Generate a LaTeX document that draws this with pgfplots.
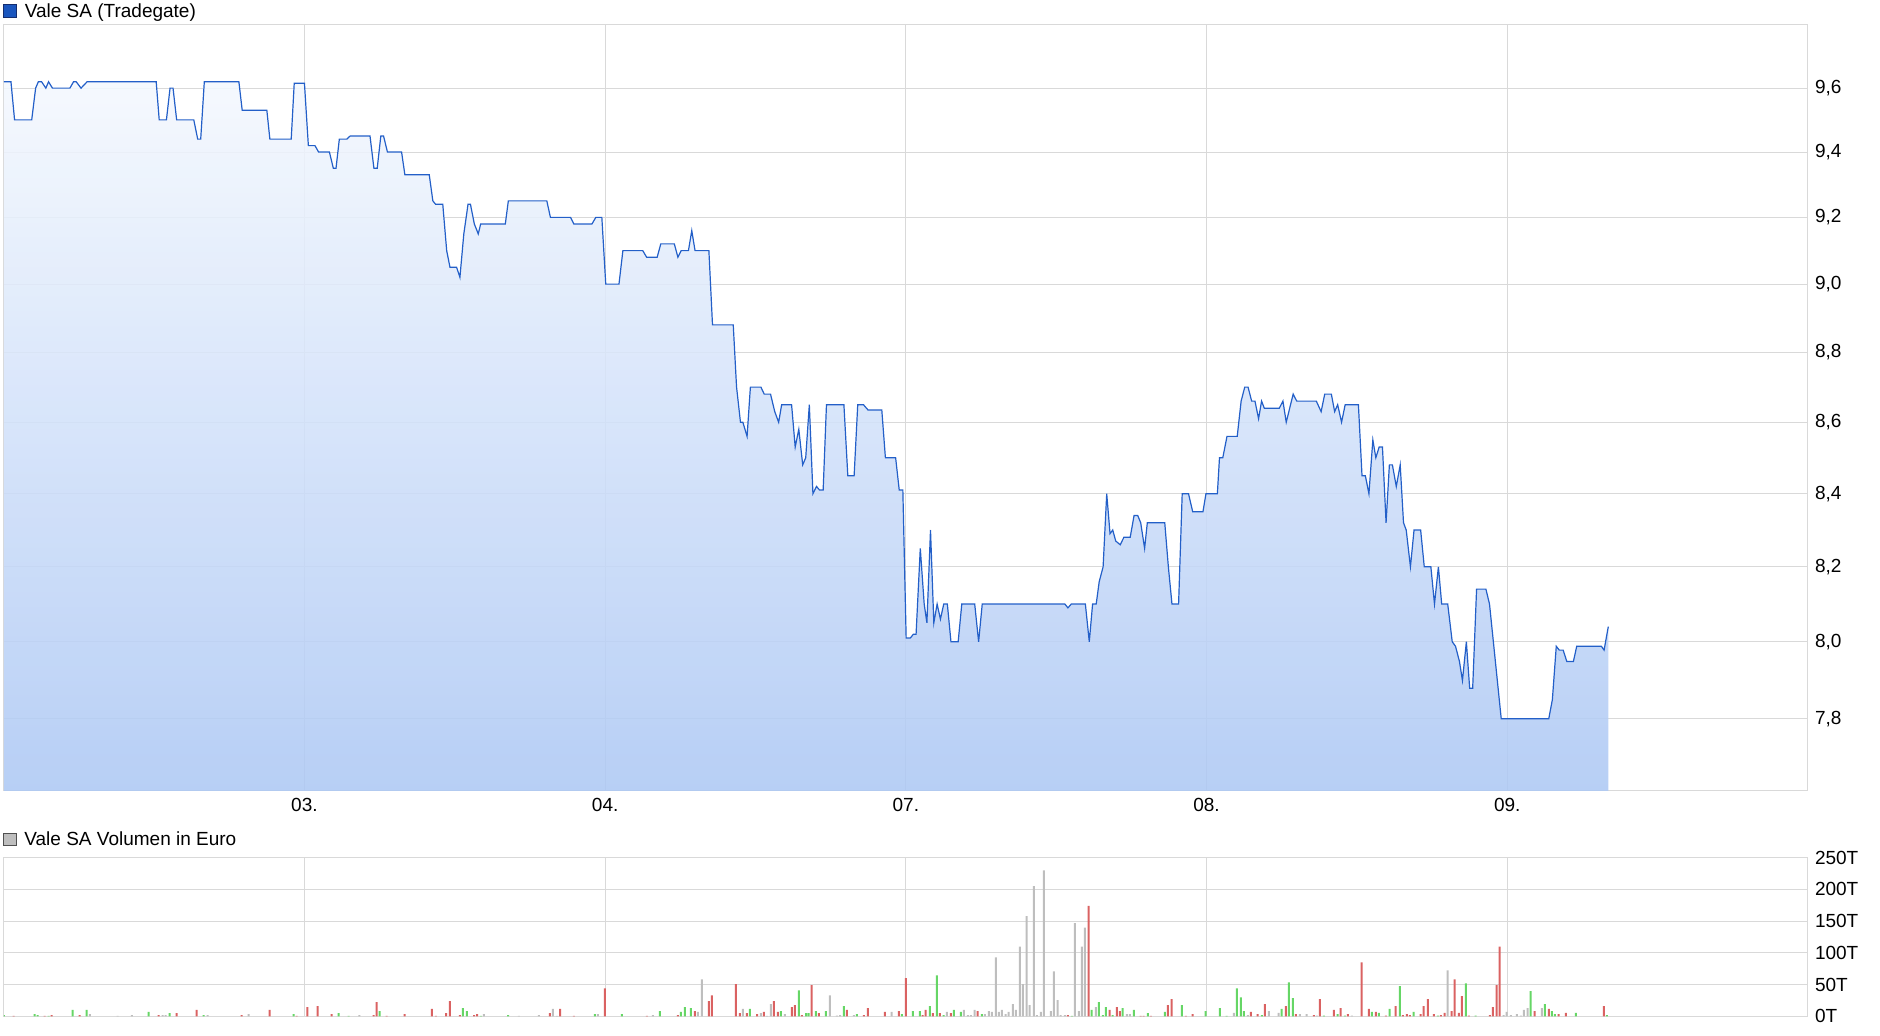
\documentclass[border=0pt]{standalone}
\usepackage{pgfplots}
\pgfplotsset{compat=1.18}
\usepackage{pgfplotstable}
\usepackage{fontspec}
\setmainfont{Liberation Sans}

\definecolor{gridgray}{RGB}{217,217,217}
\definecolor{pricebl}{RGB}{35,95,200}
\definecolor{filltop}{RGB}{244,248,254}
\definecolor{fillbot}{RGB}{173,200,244}
\definecolor{barred}{RGB}{218,98,98}
\definecolor{bargreen}{RGB}{102,214,102}
\definecolor{bargray}{RGB}{190,190,190}

% price, x in trading days from 02.
\pgfplotstableread{
x p
0.000 9.62
0.024 9.62
0.036 9.50
0.093 9.50
0.106 9.60
0.115 9.62
0.126 9.62
0.140 9.60
0.149 9.62
0.162 9.60
0.220 9.60
0.232 9.62
0.241 9.62
0.257 9.60
0.277 9.62
0.507 9.62
0.517 9.50
0.541 9.50
0.553 9.60
0.563 9.60
0.575 9.50
0.632 9.50
0.645 9.44
0.655 9.44
0.667 9.62
0.782 9.62
0.793 9.53
0.875 9.53
0.885 9.44
0.956 9.44
0.966 9.615
1.000 9.615
1.013 9.42
1.035 9.42
1.047 9.40
1.083 9.40
1.096 9.35
1.105 9.35
1.116 9.44
1.141 9.44
1.152 9.45
1.218 9.45
1.231 9.35
1.242 9.35
1.254 9.45
1.263 9.45
1.276 9.40
1.323 9.40
1.334 9.33
1.415 9.33
1.427 9.25
1.436 9.24
1.460 9.24
1.473 9.10
1.484 9.05
1.506 9.05
1.517 9.02
1.530 9.15
1.544 9.24
1.552 9.24
1.565 9.18
1.578 9.15
1.586 9.18
1.668 9.18
1.678 9.25
1.806 9.25
1.818 9.20
1.885 9.20
1.896 9.18
1.956 9.18
1.969 9.20
1.989 9.20
2.002 9.00
2.046 9.00
2.059 9.10
2.125 9.10
2.138 9.08
2.173 9.08
2.185 9.12
2.230 9.12
2.242 9.08
2.253 9.10
2.277 9.10
2.288 9.16
2.299 9.10
2.345 9.10
2.357 8.88
2.426 8.88
2.437 8.70
2.450 8.60
2.458 8.60
2.472 8.56
2.483 8.70
2.518 8.70
2.529 8.68
2.550 8.68
2.564 8.63
2.577 8.60
2.587 8.65
2.620 8.65
2.632 8.53
2.644 8.58
2.657 8.48
2.667 8.50
2.679 8.65
2.691 8.40
2.703 8.42
2.713 8.41
2.725 8.41
2.736 8.65
2.794 8.65
2.807 8.45
2.828 8.45
2.840 8.65
2.859 8.65
2.874 8.635
2.920 8.635
2.932 8.50
2.966 8.50
2.978 8.41
2.990 8.41
3.001 8.01
3.015 8.01
3.025 8.02
3.034 8.02
3.048 8.25
3.061 8.10
3.070 8.05
3.082 8.30
3.093 8.05
3.104 8.10
3.115 8.06
3.126 8.10
3.138 8.10
3.150 8.00
3.174 8.00
3.186 8.10
3.229 8.10
3.242 8.00
3.254 8.10
3.529 8.10
3.539 8.09
3.550 8.10
3.597 8.10
3.610 8.00
3.621 8.10
3.633 8.10
3.643 8.16
3.656 8.20
3.668 8.40
3.679 8.29
3.688 8.30
3.698 8.27
3.713 8.26
3.725 8.28
3.746 8.28
3.759 8.34
3.771 8.34
3.781 8.32
3.794 8.25
3.803 8.32
3.861 8.32
3.873 8.20
3.885 8.10
3.907 8.10
3.919 8.40
3.940 8.40
3.954 8.35
3.988 8.35
3.998 8.40
4.036 8.40
4.043 8.50
4.054 8.50
4.068 8.56
4.102 8.56
4.115 8.66
4.127 8.70
4.138 8.70
4.150 8.66
4.161 8.66
4.173 8.61
4.183 8.66
4.192 8.64
4.242 8.64
4.254 8.66
4.265 8.60
4.288 8.68
4.300 8.66
4.365 8.66
4.381 8.63
4.393 8.68
4.415 8.68
4.426 8.63
4.436 8.65
4.449 8.60
4.461 8.65
4.505 8.65
4.517 8.45
4.528 8.45
4.540 8.40
4.553 8.55
4.563 8.50
4.574 8.53
4.585 8.53
4.597 8.32
4.608 8.48
4.618 8.48
4.631 8.42
4.644 8.48
4.655 8.32
4.664 8.30
4.678 8.20
4.690 8.30
4.712 8.30
4.724 8.20
4.746 8.20
4.758 8.10
4.771 8.20
4.782 8.10
4.802 8.10
4.817 8.00
4.828 7.99
4.841 7.95
4.851 7.90
4.864 8.00
4.875 7.88
4.885 7.88
4.898 8.14
4.929 8.14
4.941 8.10
4.980 7.80
5.138 7.80
5.150 7.85
5.163 7.99
5.173 7.98
5.186 7.98
5.198 7.95
5.220 7.95
5.231 7.99
5.313 7.99
5.322 7.98
5.336 8.04
}\pricedata

% volume in thousand euro, by colour
\pgfplotstableread{
x v
0.033 0.5
0.136 0.5
0.159 2
0.252 2
0.515 2
0.575 5
0.641 10
0.791 2
0.884 10
0.974 0.5
1.010 14.6
1.044 16
1.090 3.6
1.230 2
1.240 22.4
1.273 0.5
1.333 3.6
1.424 11.5
1.437 0.5
1.471 5
1.484 24
1.517 2
1.564 2
1.574 3.6
1.816 5
1.850 11.5
1.896 0.5
1.999 44
2.139 0.5
2.242 2
2.298 8.3
2.345 24
2.355 33
2.435 50.5
2.448 5
2.471 5
2.505 3.6
2.528 6.8
2.561 24
2.574 6.8
2.621 14.6
2.631 17.7
2.654 2
2.687 49
2.711 5
2.804 10
2.860 2
2.874 13
2.930 6.8
2.977 8.3
3.000 60
3.056 2
3.066 10
3.090 5
3.113 5
3.150 5
3.239 8.3
3.539 2
3.608 174
3.678 10
3.702 14.6
3.712 8.3
3.781 0.5
3.791 0.5
3.815 0.5
3.871 17.7
3.884 27
3.931 0.5
3.954 3.6
4.147 6.8
4.170 3.6
4.194 19.3
4.264 16
4.297 3.6
4.357 2
4.377 27
4.423 10
4.446 13
4.470 3.6
4.516 85
4.540 11.5
4.563 6.8
4.596 1
4.629 16
4.653 2
4.666 3.6
4.676 2
4.712 3.6
4.722 16
4.736 27
4.756 3.6
4.779 2
4.792 5.2
4.815 8.3
4.825 58.3
4.839 5.2
4.849 31.8
4.872 1
4.942 2
4.952 14.6
4.965 49
4.975 110
5.091 8.3
5.138 11.5
5.171 3.6
5.195 5.2
5.321 16
}\volred

\pgfplotstableread{
x v
0.000 2
0.103 3.6
0.113 2
0.149 0.5
0.229 10
0.276 10
0.482 7
0.552 5
0.665 2
0.964 3.6
1.114 5
1.147 0.5
1.250 8.3
1.527 13
1.540 8.3
1.587 0.5
1.677 2
1.966 3.6
2.056 3.6
2.182 8.3
2.252 6.8
2.265 14.6
2.285 13
2.481 11.5
2.584 8.3
2.644 41
2.668 5
2.677 5
2.701 8.3
2.734 8.3
2.794 16
2.837 3.6
2.987 3.6
3.023 8.3
3.047 8.3
3.080 16
3.103 64.6
3.126 2
3.160 10
3.183 6.8
3.253 3.6
3.552 0.5
3.618 10
3.642 22.4
3.655 2
3.665 14.6
3.688 2
3.721 13
3.758 10
3.805 5
3.861 6.8
3.918 17.7
3.997 8.3
4.044 13
4.067 0.5
4.101 44
4.114 30
4.124 8.3
4.184 2
4.250 11.5
4.274 53.6
4.287 28.6
4.390 1
4.436 3.6
4.460 1
4.550 6.8
4.573 5.2
4.609 11.5
4.643 47.4
4.689 6.8
4.769 1
4.862 52
4.895 1
5.078 39.6
5.125 19.3
5.148 8.3
5.158 3.6
5.228 5.2
5.331 2
}\volgreen

\pgfplotstableread{
x v
0.286 3.6
0.379 0.5
0.426 2
0.528 2
0.538 2
0.678 2
0.814 3.6
1.183 2
1.597 3.6
1.713 0.5
1.780 2
1.826 11.5
1.840 0.5
1.976 3.6
2.159 2
2.308 6.8
2.322 58
2.458 11.5
2.518 5
2.538 0.5
2.551 19
2.598 3.6
2.747 33
2.771 1
2.781 2
2.827 2
2.953 6.8
3.136 6.8
3.193 10
3.206 2
3.216 2
3.229 10
3.263 3.6
3.276 8.3
3.286 6.8
3.299 92.7
3.309 6.8
3.319 10
3.332 3.6
3.342 6.8
3.356 19.3
3.366 10
3.379 110
3.389 50.5
3.402 158
3.412 17.7
3.426 205
3.436 2
3.449 6.8
3.459 230
3.482 8.3
3.492 70.8
3.505 25.5
3.515 2
3.529 2
3.562 147
3.575 8.3
3.585 110
3.595 139.6
3.632 14.6
3.735 3.6
3.745 3.6
4.091 5.2
4.137 2
4.207 8.3
4.240 5.2
4.310 3.6
4.333 3.6
4.367 1
4.483 1
4.802 72.4
4.988 2
4.998 6.8
5.012 2
5.032 3.6
5.045 1
5.055 10
5.068 13
5.115 13
}\volgray

\pgfplotsset{
  panel/.style={
    scale only axis, anchor=south west, width=902.1pt,
    xmin=0, xmax=6, xtick={1,2,3,4,5},
    yticklabel pos=right,
    grid=major, grid style={draw=gridgray, line width=0.5pt},
    axis line style={draw=gridgray, line width=0.5pt},
    major tick length=0pt,
    tick label style={font=\fontsize{9.5}{11}\selectfont, text=black},
  },
}

\begin{document}
\begin{tikzpicture}
\useasboundingbox (0,0) rectangle (940pt,518pt);

\begin{axis}[panel,
    at={(1.875pt,122.5pt)}, height=383pt,
    ymode=log, ymin=7.618, ymax=9.802,
    xticklabels={03.,04.,07.,08.,09.},
    ytick={7.8,8.0,8.2,8.4,8.6,8.8,9.0,9.2,9.4,9.6},
    yticklabels={{7,8},{8,0},{8,2},{8,4},{8,6},{8,8},{9,0},{9,2},{9,4},{9,6}},
]
% area down to the lower axis limit
\addplot[draw=none, top color=filltop, bottom color=fillbot, fill opacity=0.88]
  table {\pricedata} -- (axis cs:5.336,7.618) -- (axis cs:0,7.618) -- cycle;
\addplot[pricebl, line width=0.6pt] table {\pricedata};
\end{axis}

\begin{axis}[panel,
    at={(1.875pt,9.85pt)}, height=79.3pt,
    xticklabels={},
    ymin=0, ymax=250,
    ytick={0,50,100,150,200,250},
    yticklabels={0T,50T,100T,150T,200T,250T},
]
\addplot[ybar, bar width=1pt, bar shift=0pt, fill=bargray, draw=none] table {\volgray};
\addplot[ybar, bar width=1pt, bar shift=0pt, fill=bargreen, draw=none] table {\volgreen};
\addplot[ybar, bar width=1pt, bar shift=0pt, fill=barred, draw=none] table {\volred};
\end{axis}

\filldraw[fill={rgb,255:red,26;green,86;blue,190}, draw={rgb,255:red,20;green,45;blue,110}, line width=0.5pt]
  (1.8pt,509.4pt) rectangle (8.3pt,515.8pt);
\node[anchor=base west, inner sep=0pt, font=\fontsize{9.5}{11}\selectfont] at (12.2pt,509.0pt) {Vale SA (Tradegate)};
\filldraw[fill=bargray, draw={rgb,255:red,80;green,80;blue,80}, line width=0.5pt]
  (1.8pt,95.3pt) rectangle (8.1pt,101.4pt);
\node[anchor=base west, inner sep=0pt, font=\fontsize{9.5}{11}\selectfont] at (12pt,95.3pt) {Vale SA Volumen in Euro};
\end{tikzpicture}
\end{document}
